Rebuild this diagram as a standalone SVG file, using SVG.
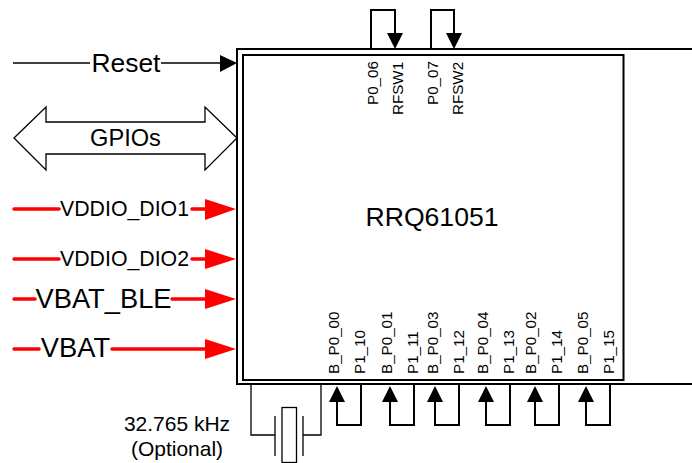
<svg xmlns="http://www.w3.org/2000/svg" width="692" height="463" viewBox="0 0 692 463">
<style>
text{font-family:"Liberation Sans",Arial,sans-serif;fill:#000}
.w{fill:none;stroke:#000;stroke-width:2}
.t{fill:none;stroke:#000;stroke-width:1.3}
.r{fill:none;stroke:#f00;stroke-width:3.5;stroke-linecap:round}
.ra{fill:#f00}
.a{fill:#000}
.p{font-size:15.200px}
.s{font-size:21.300px}
.n{font-size:27.300px}
.c{font-size:21px}
</style>
<g id="chip">
<path class="w" d="M692 49H237V384H692"/>
<rect class="w" x="243" y="55" width="380.500" height="325" fill="none"/>
<text x="432" y="226" text-anchor="middle" font-size="26.600">RRQ61051</text>
</g>
<g id="pins">
<text class="p" transform="translate(377.500 105) rotate(-90)">P0_06</text>
<text class="p" transform="translate(402.500 115) rotate(-90)">RFSW1</text>
<text class="p" transform="translate(437.500 105) rotate(-90)">P0_07</text>
<text class="p" transform="translate(462.500 115) rotate(-90)">RFSW2</text>
<text class="p" transform="translate(339 374) rotate(-90)">B_P0_00</text>
<text class="p" transform="translate(365 374) rotate(-90)">P1_10</text>
<text class="p" transform="translate(392 374) rotate(-90)">B_P0_01</text>
<text class="p" transform="translate(418 374) rotate(-90)">P1_11</text>
<text class="p" transform="translate(438 374) rotate(-90)">B_P0_03</text>
<text class="p" transform="translate(464 374) rotate(-90)">P1_12</text>
<text class="p" transform="translate(488 374) rotate(-90)">B_P0_04</text>
<text class="p" transform="translate(514 374) rotate(-90)">P1_13</text>
<text class="p" transform="translate(536 374) rotate(-90)">B_P0_02</text>
<text class="p" transform="translate(562 374) rotate(-90)">P1_14</text>
<text class="p" transform="translate(588 374) rotate(-90)">B_P0_05</text>
<text class="p" transform="translate(614 374) rotate(-90)">P1_15</text>
</g>
<g id="connectors">
<path class="w" d="M371 49V10H395V34M431 49V10H454V34"/>
<path class="a" d="M387 33H403L395 49ZM446 33H462L454 49Z"/>
<path class="w" d="M361 384V425H337V401M414 384V425H390V401M459 384V425H435V401M510 384V425H486V401M559 384V425H535V401M610 384V425H586V401"/>
<path class="a" d="M329 402H345L337 386ZM382 402H398L390 386ZM427 402H443L435 386ZM478 402H494L486 386ZM527 402H543L535 386ZM578 402H594L586 386Z"/>
<path class="w" style="stroke-width:1.500" d="M13 63H90M161 63H222"/>
<path class="a" d="M220 55L237 63L220 72Z"/>
<path class="r" d="M14 209H59M192 209H207M14 259H59M192 259H207M14 299H35M172 299H207M14 349H39M112 349H207"/>
<path class="ra" d="M205 199L236 209L205 220ZM205 249L236 259L205 269ZM205 289L236 299L205 309ZM205 339L236 349L205 359Z"/>
</g>
<g id="reset"><text x="126" y="71.500" font-size="26.400" text-anchor="middle">Reset</text></g>
<g id="gpios">
<path fill="#fff" stroke="#000" stroke-width="1.300" d="M14 138L46 107V122H205V107L237 138L205 170V154H46V170Z"/>
<text x="125.500" y="146" font-size="23.600" text-anchor="middle">GPIOs</text>
</g>
<g id="vddio1"><text class="s" x="124.500" y="216" text-anchor="middle">VDDIO_DIO1</text></g>
<g id="vddio2"><text class="s" x="124.500" y="266" text-anchor="middle">VDDIO_DIO2</text></g>
<g id="vbat-ble"><text class="n" x="103.500" y="307.500" text-anchor="middle">VBAT_BLE</text></g>
<g id="vbat"><text class="n" x="75.500" y="357" text-anchor="middle">VBAT</text></g>
<g id="crystal">
<path class="t" d="M251 385V435H275M275 416V456M303 416V456M303 435H321V385"/>
<rect x="282" y="407.500" width="14.500" height="55" fill="#fff" stroke="#000" stroke-width="1.300"/>
<text class="c" x="177" y="431" text-anchor="middle">32.765 kHz</text>
<text class="c" x="177" y="455.500" text-anchor="middle">(Optional)</text>
</g>
</svg>
